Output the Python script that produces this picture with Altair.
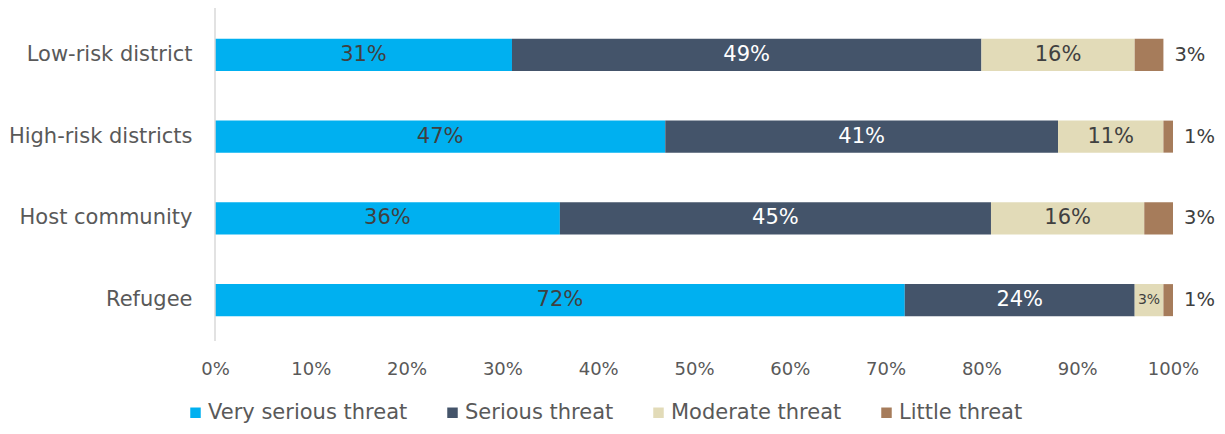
import altair as alt
import pandas as pd

groups = ["Low-risk district", "High-risk districts", "Host community", "Refugee"]
series = ["Very serious threat", "Serious threat", "Moderate threat", "Little threat"]
very_serious = [31, 47, 36, 72]
serious = [49, 41, 45, 24]
moderate = [16, 11, 16, 3]
little = [3, 1, 3, 1]
colors = ["#00B0F0", "#44546A", "#E2DBB8", "#A67C5B"]

rows = []
for i, g in enumerate(groups):
    start = 0
    for s, vals in zip(series, [very_serious, serious, moderate, little]):
        v = vals[i]
        rows.append({"group": g, "series": s, "value": v,
                     "start": start, "end": start + v, "mid": start + v / 2,
                     "order": series.index(s)})
        start += v
df = pd.DataFrame(rows)

FONT = "DejaVu Sans"
W, H = 958, 327

y_enc = alt.Y("group:N", sort=groups, title=None,
              scale=alt.Scale(paddingInner=0.608, paddingOuter=0.304),
              axis=alt.Axis(labelFontSize=21, labelColor="#595959", labelFont=FONT,
                            ticks=False, domain=False, labelPadding=23, labelLimit=0))
x_scale = alt.Scale(domain=[0, 100], nice=False)

base = alt.Chart(df)

bars = base.mark_bar().encode(
    y=y_enc,
    x=alt.X("start:Q", scale=x_scale, title=None,
            axis=alt.Axis(values=list(range(0, 101, 10)), labelExpr="datum.value + '%'",
                          labelFontSize=18, labelColor="#595959", labelFont=FONT,
                          labelFlush=False, labelOverlap=False,
                          grid=False, ticks=False, domain=False, labelPadding=19)),
    x2="end:Q",
    color=alt.Color("series:N", sort=series,
                    scale=alt.Scale(domain=series, range=colors),
                    legend=alt.Legend(title=None, orient="none", direction="horizontal",
                                      legendX=-30, legendY=388, columns=4,
                                      symbolType="square", symbolSize=110,
                                      symbolStrokeWidth=0, labelLimit=0,
                                      labelFontSize=21, labelColor="#595959", labelFont=FONT,
                                      columnPadding=34, labelOffset=2)),
    order="order:Q",
)

inside = base.transform_filter("datum.series != 'Little threat'").mark_text(
    font=FONT, baseline="middle", align="center"
).encode(
    y=alt.Y("group:N", sort=groups),
    x=alt.X("mid:Q", scale=x_scale),
    text=alt.Text("label:N"),
    color=alt.condition("datum.series == 'Serious threat'", alt.value("#FFFFFF"), alt.value("#404040")),
    size=alt.condition("datum.value < 5", alt.value(14), alt.value(21)),
).transform_calculate(label="datum.value + '%'")

outside = base.transform_filter("datum.series == 'Little threat'").mark_text(
    font=FONT, baseline="middle", align="left", dx=11, fontSize=19.5, color="#404040"
).encode(
    y=alt.Y("group:N", sort=groups),
    x=alt.X("end:Q", scale=x_scale),
    text=alt.Text("label:N"),
).transform_calculate(label="datum.value + '%'")

axis_line = alt.Chart(pd.DataFrame({"a": [0]})).mark_rule(color="#D9D9D9", strokeWidth=1.5).encode(
    x=alt.value(0), y=alt.value(-6), y2=alt.value(H)
)

chart = alt.layer(bars, inside, outside, axis_line).properties(
    width=W, height=H,
    autosize=alt.AutoSizeParams(type="none"),
    padding={"left": 207, "top": 6, "right": 44, "bottom": 85},
).configure_view(stroke=None)

chart.save("out.html", embed_options={"renderer": "svg", "actions": False})
